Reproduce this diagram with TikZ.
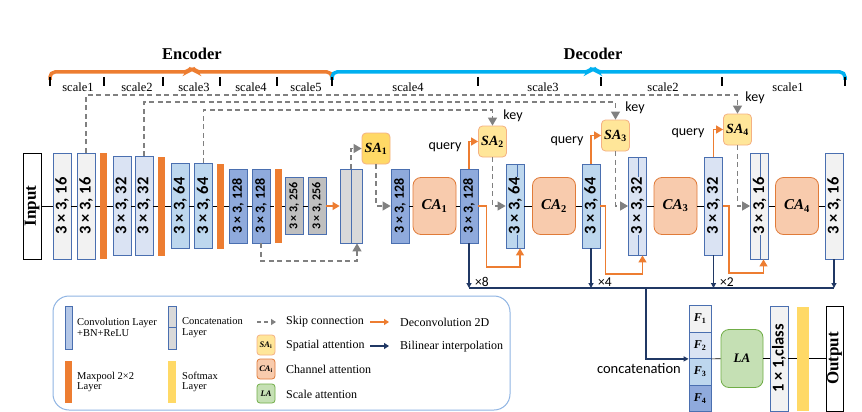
\documentclass[tikz,border=0pt]{standalone}
\usepackage{fontspec}
\setmainfont{Liberation Serif}
\newfontfamily\calfont{Carlito}
\usepackage{graphicx}
\usetikzlibrary{arrows.meta}

\definecolor{c16}{HTML}{F2F2F2}
\definecolor{c32}{HTML}{DAE3F3}
\definecolor{c64}{HTML}{BDD7EE}
\definecolor{c128}{HTML}{8FAADC}
\definecolor{c256}{HTML}{BFBFBF}
\definecolor{ccat}{HTML}{D9D9D9}
\definecolor{cconv}{HTML}{B4C7E7}
\definecolor{bordc}{HTML}{4A6FB0}
\definecolor{mpc}{HTML}{ED7D31}
\definecolor{skipc}{HTML}{808080}
\definecolor{navyc}{HTML}{203864}
\definecolor{saf}{HTML}{FFE699}
\definecolor{saf1}{HTML}{FFD966}
\definecolor{sab}{HTML}{F4B183}
\definecolor{caf}{HTML}{F8CBAD}
\definecolor{cab}{HTML}{E07B39}
\definecolor{laf}{HTML}{C5E0B4}
\definecolor{lab}{HTML}{70AD47}
\definecolor{decc}{HTML}{00B0F0}
\definecolor{legc}{HTML}{8FB4E3}

\newcommand\fsz[1]{\fontsize{#1}{#1}\selectfont}
\newcommand\vlbl[1]{\rotatebox{90}{#1}}
\newcommand\clbl[2]{\rotatebox{90}{\setlength{\fboxsep}{0.5pt}\colorbox{#1}{#2}}}
\newcommand\att[2]{#1\textsubscript{\upshape #2}}

\begin{document}
\begin{tikzpicture}[
  x = 1pt, y = -1pt,
  layer/.style = {draw = bordc, line width = 0.8pt, minimum width = 18pt, inner sep = 0pt, font = \calfont\bfseries\fsz{16.5}},
  catblk/.style = {path picture = {\draw[bordc, line width = 0.8pt] ([xshift = #1]path picture bounding box.north) -- ([xshift = #1]path picture bounding box.south);}},
  pool/.style = {fill = mpc, minimum width = 7pt, inner sep = 0pt},
  sabox/.style = {draw = sab, fill = saf, line width = 0.8pt, rounded corners = 4pt, minimum width = 28pt, minimum height = 31pt, inner sep = 0pt, font = \bfseries\itshape\fsz{14}},
  cabox/.style = {draw = cab, fill = caf, line width = 0.8pt, rounded corners = 8pt, minimum width = 43pt, minimum height = 57pt, inner sep = 0pt, font = \bfseries\itshape\fsz{15}},
  labox/.style = {draw = lab, fill = laf, line width = 0.8pt, rounded corners = 8pt, minimum width = 42pt, minimum height = 58pt, inner sep = 0pt, font = \bfseries\itshape\fsz{13}},
  iobox/.style = {draw = black, fill = white, line width = 1pt, minimum width = 18pt, inner sep = 0pt, font = \bfseries\fsz{17}},
  fcell/.style = {draw = bordc, line width = 0.8pt, minimum width = 22pt, minimum height = 26.5pt, inner sep = 0pt, font = \bfseries\itshape\fsz{12}},
  link/.style = {line width = 0.7pt},
  skip/.style = {draw = skipc, line width = 1.2pt, dash pattern = on 5pt off 3.5pt, -{Triangle[length = 8pt, width = 9pt]}},
  deconv/.style = {draw = mpc, line width = 1.3pt, -{Triangle[length = 7pt, width = 8pt]}},
  bilin/.style = {draw = navyc, line width = 1.2pt, -{Triangle[length = 5pt, width = 5pt]}},
  lbltxt/.style = {inner sep = 0pt, font = \calfont\fsz{14}},
  scl/.style = {inner sep = 0pt, font = \fsz{12.5}},
  legtxt/.style = {anchor = west, align = left, inner sep = 0pt, font = \fsz{10.5}},
  legtxtb/.style = {anchor = west, inner sep = 0pt, font = \fsz{12}},
  scaletick/.style = {line width = 1.3pt}
  ]
  \path[use as bounding box, fill = white] (0,0) rectangle (862,412);

  %braces
  \draw[mpc, line width = 3.5pt, rounded corners = 5pt] (50,80) -- (50,72) -- (188,72) -- (192,67) -- (196,72) -- (332,72) -- (332,80);
  \draw[decc, line width = 3.5pt, rounded corners = 5pt] (332,80) -- (332,72) -- (589,72) -- (593,67) -- (597,72) -- (845,72) -- (845,80);
  \draw[scaletick] (50,77) -- (50,86) (104,77) -- (104,86) (163,77) -- (163,86) (220,77) -- (220,86)
    (277,77) -- (277,86) (332,77) -- (332,86) (478,77) -- (478,86) (601,77) -- (601,86) (722,77) -- (722,86) (845,77) -- (845,86);
  \node[font = \bfseries\fsz{16.5}] (enc) at (192,54) {Encoder};
  \node[font = \bfseries\fsz{16.5}] (dec) at (593,54) {Decoder};
  \node[scl] (s1) at (78,87) {scale1};
  \node[scl] (s2) at (137,87) {scale2};
  \node[scl] (s3) at (194,87) {scale3};
  \node[scl] (s4) at (251,87) {scale4};
  \node[scl] (s5) at (306,87) {scale5};
  \node[scl] (t4) at (408,87) {scale4};
  \node[scl] (t3) at (543,87) {scale3};
  \node[scl] (t2) at (663,87) {scale2};
  \node[scl] (t1) at (788,87) {scale1};

  %encoder
  \node[iobox, minimum height = 106pt] (in) at (32,206) {\vlbl{Input}};
  \node[layer, fill = c16, minimum height = 106pt] (e11) at (62,206) {\vlbl{3 × 3, 16}};
  \node[layer, fill = c16, minimum height = 106pt] (e12) at (86,206) {\vlbl{3 × 3, 16}};
  \node[pool, minimum height = 106pt] (mp1) at (103.5,206) {};
  \node[layer, fill = c32, minimum height = 99pt] (e21) at (122,206) {\vlbl{3 × 3, 32}};
  \node[layer, fill = c32, minimum height = 99pt] (e22) at (144,206) {\vlbl{3 × 3, 32}};
  \node[pool, minimum height = 99pt] (mp2) at (161.5,206) {};
  \node[layer, fill = c64, minimum height = 85pt] (e31) at (180,206) {\vlbl{3 × 3, 64}};
  \node[layer, fill = c64, minimum height = 85pt] (e32) at (203.5,206) {\vlbl{3 × 3, 64}};
  \node[pool, minimum height = 85pt] (mp3) at (220.5,206) {};
  \node[layer, fill = c128, minimum height = 74pt, font = \calfont\bfseries\fsz{14}] (e41) at (238,206) {\vlbl{3 × 3, 128}};
  \node[layer, fill = c128, minimum height = 74pt, font = \calfont\bfseries\fsz{14}] (e42) at (261,206) {\vlbl{3 × 3, 128}};
  \node[pool, minimum height = 74pt] (mp4) at (278,206) {};
  \node[layer, fill = c256, minimum height = 57pt, font = \calfont\bfseries\fsz{12}] (e51) at (294,206) {\vlbl{3 × 3, 256}};
  \node[layer, fill = c256, minimum height = 57pt, font = \calfont\bfseries\fsz{12}] (e52) at (317,206) {\vlbl{3 × 3, 256}};
  \node[layer, catblk = 0pt, fill = ccat, minimum width = 22pt, minimum height = 74pt] (cat) at (351,206) {};

  %decoder
  \node[sabox, fill = saf1] (sa1) at (376,148.5) {\att{SA}{1}};
  \node[layer, fill = c128, minimum height = 74pt, font = \calfont\bfseries\fsz{14}] (d1) at (400,206) {\vlbl{3 × 3, 128}};
  \node[cabox] (ca1) at (434.5,206) {\att{CA}{1}};
  \node[layer, fill = c128, minimum height = 74pt, font = \calfont\bfseries\fsz{14}] (d2) at (469,206) {\vlbl{3 × 3, 128}};
  \node[sabox] (sa2) at (492.5,141.5) {\att{SA}{2}};
  \node[layer, catblk = 2pt, fill = c64, minimum height = 84pt] (d3) at (515,206) {\clbl{c64}{3 × 3, 64}};
  \node[cabox] (ca2) at (554,206) {\att{CA}{2}};
  \node[layer, fill = c64, minimum height = 84pt] (d4) at (591,206) {\vlbl{3 × 3, 64}};
  \node[sabox] (sa3) at (615.5,135.5) {\att{SA}{3}};
  \node[layer, catblk = 1pt, fill = c32, minimum height = 98pt] (d5) at (637.5,206) {\clbl{c32}{3 × 3, 32}};
  \node[cabox] (ca3) at (675.5,206) {\att{CA}{3}};
  \node[layer, fill = c32, minimum height = 98pt] (d6) at (713.5,206) {\vlbl{3 × 3, 32}};
  \node[sabox] (sa4) at (737.5,129.5) {\att{SA}{4}};
  \node[layer, catblk = 1pt, fill = c16, minimum height = 106pt] (d7) at (759.5,206) {\clbl{c16}{3 × 3, 16}};
  \node[cabox] (ca4) at (797,206) {\att{CA}{4}};
  \node[layer, fill = c16, minimum height = 106pt] (d8) at (834,206) {\vlbl{3 × 3, 16}};

  \node[lbltxt] (q2) at (445,147) {query};
  \node[lbltxt] (q3) at (567,141) {query};
  \node[lbltxt] (q4) at (688,133) {query};
  \node[lbltxt] (k2) at (513,116) {key};
  \node[lbltxt] (k3) at (635,108) {key};
  \node[lbltxt] (k4) at (755,98) {key};
  \node[lbltxt, font = \calfont\fsz{13.5}] (x8) at (482,282) {×8};
  \node[lbltxt, font = \calfont\fsz{13.5}] (x4) at (605,282) {×4};
  \node[lbltxt, font = \calfont\fsz{13.5}] (x2) at (727,282) {×2};

  %fusion
  \node[fcell, fill = c16] (f1) at (700,318.75) {\att{F}{1}};
  \node[fcell, fill = c32] (f2) at (700,345.25) {\att{F}{2}};
  \node[fcell, fill = c64] (f3) at (700,371.75) {\att{F}{3}};
  \node[fcell, fill = c128] (f4) at (700,398.25) {\att{F}{4}};
  \node[lbltxt, anchor = east, font = \calfont\fsz{14.5}] (cc) at (681,369) {concatenation};
  \node[labox] (la) at (742,358.5) {LA};
  \node[layer, fill = c16, minimum height = 105pt] (cls) at (779,358.5) {\vlbl{1 × 1,class}};
  \node[fill = saf1, minimum width = 12pt, minimum height = 104pt, inner sep = 0pt] (sm) at (803,358.5) {};
  \node[iobox, minimum width = 17pt, minimum height = 105pt] (out) at (834.5,358.5) {\vlbl{Output}};

  %legend
  \node[draw = legc, line width = 1pt, rounded corners = 16pt, minimum width = 457pt, minimum height = 114pt] (legend) at (281.5,353) {};
  \node[layer, fill = cconv, minimum width = 7pt, minimum height = 43pt] (lconv) at (68.5,327.5) {};
  \node[legtxt] (tconv) at (77,327.5) {Convolution Layer\\+BN+ReLU};
  \node[layer, fill = ccat, minimum width = 8pt, minimum height = 43pt,
    path picture = {\draw[bordc, line width = 0.8pt] (path picture bounding box.west) -- (path picture bounding box.east);}] (lcat) at (172,327.5) {};
  \node[legtxt] (tcat) at (182,327.5) {Concatenation\\Layer};
  \node[pool, minimum height = 42pt] (lpool) at (68.5,382) {};
  \node[legtxt] (tpool) at (77,382) {Maxpool 2×2\\Layer};
  \node[fill = saf1, minimum width = 8pt, minimum height = 42pt, inner sep = 0pt] (lsm) at (172,382) {};
  \node[legtxt] (tsm) at (182,382) {Softmax\\Layer};
  \coordinate (ls1) at (257,322);
  \coordinate (ls2) at (276,322);
  \node[legtxtb] (tskip) at (286,322) {Skip connection};
  \coordinate (ld1) at (370,322);
  \coordinate (ld2) at (389,322);
  \node[legtxtb] (tdec) at (400,322) {Deconvolution 2D};
  \node[sabox, minimum width = 18pt, minimum height = 20pt, rounded corners = 3pt, font = \bfseries\itshape\fsz{8.5}] (lsa) at (266,345) {\att{SA}{i}};
  \node[legtxtb] (tsa) at (286,346) {Spatial attention};
  \coordinate (lb1) at (370,346);
  \coordinate (lb2) at (389,346);
  \node[legtxtb] (tbil) at (400,347) {Bilinear interpolation};
  \node[cabox, minimum width = 18pt, minimum height = 20pt, rounded corners = 3pt, font = \bfseries\itshape\fsz{8.5}] (lca) at (266,369) {\att{CA}{i}};
  \node[legtxtb] (tca) at (286,369) {Channel attention};
  \node[labox, minimum width = 18pt, minimum height = 19pt, rounded corners = 3pt, font = \bfseries\itshape\fsz{8.5}] (lla) at (266,393.5) {LA};
  \node[legtxtb] (tla) at (286,394) {Scale attention};

  %encoder links
  \draw[link] (in) -- (e11) -- (e12) -- (mp1) -- (e21) -- (e22) -- (mp2) -- (e31) -- (e32) -- (mp3)
    -- (e41) -- (e42) -- (mp4) -- (e51) -- (e52);
  \draw[deconv] (e52) -- (cat);

  %skip connections
  \draw[skip] (e12.north) -- (e12.north |- 0,95) -| (sa4.north);
  \draw[skip] (e22.north) -- (e22.north |- 0,102) -| (sa3.north);
  \draw[skip] (e32.north) -- (e32.north |- 0,110) -| (sa2.north);
  \draw[skip] (e42.south) -- (e42.south |- 0,261) -| ([xshift = 6pt]cat.south);
  \draw[skip] (cat.north) |- (sa1.west);
  \draw[skip] (sa1.south) |- (d1.west);
  \draw[skip] (sa2.south) |- (d3.west);
  \draw[skip] (sa3.south) |- (d5.west);
  \draw[skip] (sa4.south) |- (d7.west);

  %decoder links
  \draw[link] (d1) -- (ca1) -- (d2);
  \draw[link] (d3) -- (ca2) -- (d4);
  \draw[link] (d5) -- (ca3) -- (d6);
  \draw[link] (d7) -- (ca4) -- (d8);

  %deconvolution
  \draw[deconv] (d2.north) |- (sa2.west);
  \draw[deconv] (d4.north) |- (sa3.west);
  \draw[deconv] (d6.north) |- (sa4.west);
  \draw[deconv] (d2.east) -- ++(8,0) -- ++(0,61) -| ([xshift = 5pt]d3.south);
  \draw[deconv] (d4.east) -- ++(5,0) -- ++(0,68) -| ([xshift = 5pt]d5.south);
  \draw[deconv] (d6.east) -- ++(6,0) -- ++(0,67) -| ([xshift = 4pt]d7.south);

  %bilinear interpolation
  \draw[bilin] (d2.south) -- (d2.south |- 0,288);
  \draw[bilin] (d4.south) -- (d4.south |- 0,288);
  \draw[bilin] (d6.south) -- (d6.south |- 0,288);
  \draw[bilin] (d8.south) -- (d8.south |- 0,288);
  \draw[navyc, line width = 1.2pt] (d2.south |- 0,288) -- (d8.south |- 0,288);
  \coordinate (bus) at (646,288);
  \draw[bilin] (bus) |- (f2.south west);

  %fusion links
  \draw[link] (f2.south east) -- (la);
  \draw[link] (la) -- (cls);
  \draw[link] (cls) -- (sm) -- (out);

  %legend arrows
  \draw[skip, dash pattern = on 4pt off 3pt, -{Triangle[length = 5pt, width = 6pt]}] (ls1) -- (ls2);
  \draw[deconv, -{Triangle[length = 5pt, width = 6pt]}] (ld1) -- (ld2);
  \draw[bilin, -{Triangle[length = 5pt, width = 6pt]}] (lb1) -- (lb2);
\end{tikzpicture}
\end{document}
